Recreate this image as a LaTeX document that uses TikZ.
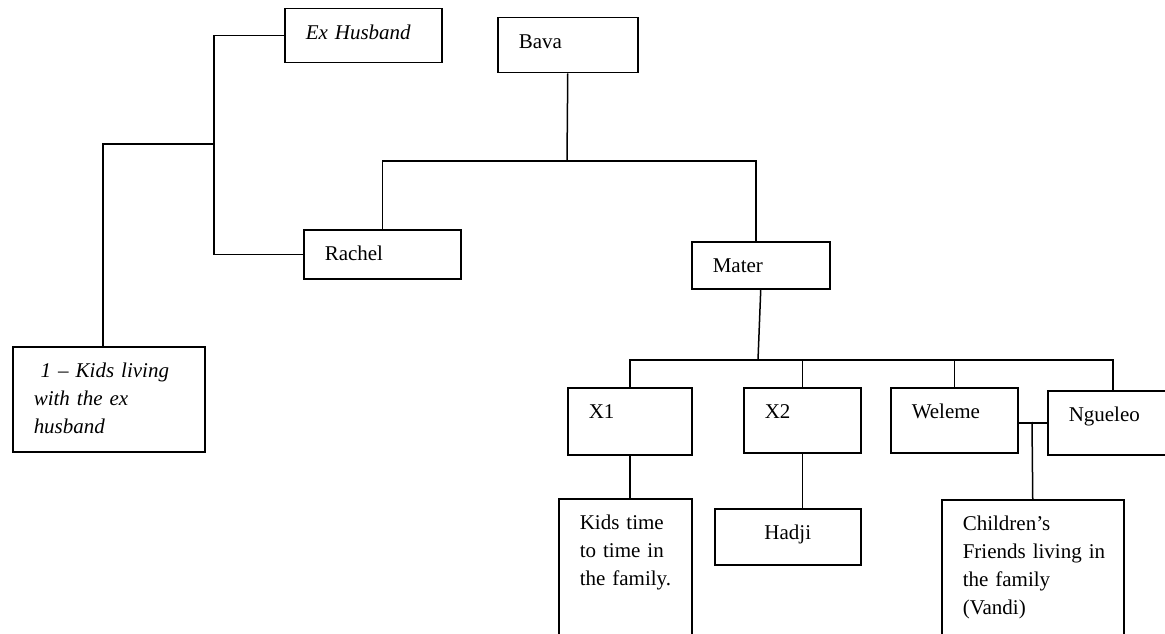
\documentclass[tikz,border=0pt]{standalone}
\usepackage{fontspec}
\setmainfont{Liberation Serif}
\hyphenpenalty=10000

\begin{document}
\begin{tikzpicture}[
   x=1pt, y=-1pt, line width=1.5pt,
   box/.style 2 args={draw, anchor=north west, align=left, inner xsep=21pt, inner ysep=0pt,
               font=\fontsize{21}{28}\selectfont, text width=#1pt-42pt,
               minimum width=#1pt, text height=31pt, text depth=#2pt-31pt},
   ital/.style={font=\fontsize{21}{28}\selectfont\itshape}]
  \useasboundingbox (0,0) rectangle (1165,634);
  \clip (0,0) rectangle (1165,634);
  % first generation
  \node[box={157}{54}, ital] (exhusband) at (284,8) {Ex Husband};
  \node[box={140}{55}] (bava) at (497,17) {Bava};
  \node[box={157}{49}] (rachel) at (303,229) {Rachel};
  \node[box={138}{47}] (mater) at (691,241) {Mater};
  \node[box={192}{105}, ital] (kidsex) at (12,346) {\ 1 – Kids~living\\with the ex\\husband};
  % children of Mater
  \node[box={124}{67}] (xone) at (567,387) {X1};
  \node[box={117}{65}] (xtwo) at (743,387) {X2};
  \node[box={127}{65}] (weleme) at (890,387) {Weleme};
  \node[box={130}{64}] (ngueleo) at (1047,390) {Ngueleo};
  % third row
  \node[box={133}{200}] (kidstime) at (558,498) {Kids~time\\to~time~in\\the~family.};
  \node[box={146}{56}, align=center] (hadji) at (714,508) {Hadji};
  \node[box={182}{200}] (friends) at (941,499) {Children’s\\Friends~living~in\\the~family\\(Vandi)};
  \coordinate (exjoin) at (214,144);
  \coordinate (bvjoin) at (567,161);
  \coordinate (mtjoin) at (758,360);
  \coordinate (wnjoin) at (1032,422);
  \draw (exhusband.west) -- ++(-70,0) |- (rachel.west);
  \draw ([xshift=-6pt]kidsex.north) |- (exjoin);
  \draw (bava.south) -- (bvjoin);
  \draw (rachel.north) |- (bvjoin) -| ([xshift=-5pt]mater.north);
  \draw (mater.south) -- (mtjoin);
  \draw (xone.north) |- (mtjoin) -| (ngueleo.north);
  \draw (xtwo.north) -- (xtwo.north |- mtjoin);
  \draw (weleme.north) -- (weleme.north |- mtjoin);
  \draw (xone.south) -- (xone.south |- kidstime.north);
  \draw (xtwo.south) -- (xtwo.south |- hadji.north);
  \draw (ngueleo.west) -- (ngueleo.west -| weleme.east);
  \draw (wnjoin) -- (friends.north);
\end{tikzpicture}
\end{document}
